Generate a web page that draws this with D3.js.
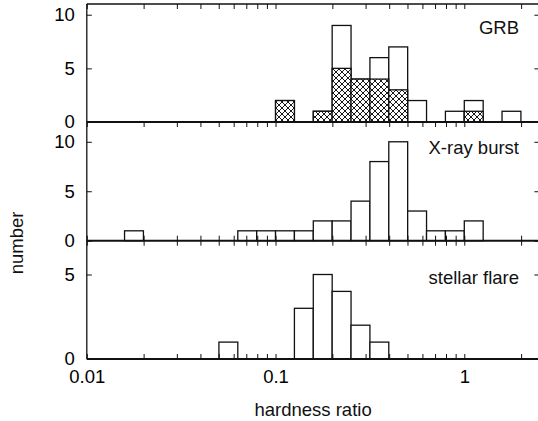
<!DOCTYPE html>
<html>
<head>
<meta charset="utf-8">
<script src="https://cdn.jsdelivr.net/npm/d3@7"></script>
<style>
html,body{margin:0;padding:0;background:#fff;}
svg{display:block;font-family:"Liberation Sans",Arial,Helvetica,sans-serif;}
</style>
</head>
<body>
<svg id="chart" width="538" height="421"></svg>
<script>
// ---- data ----
// lower edges of the histogram bins, in log10(hardness ratio); each bin is 0.1 dex wide
const binLog = [-1.8,-1.7,-1.6,-1.5,-1.4,-1.3,-1.2,-1.1,-1.0,-0.9,-0.8,-0.7,-0.6,-0.5,-0.4,-0.3,-0.2,-0.1,0.0,0.1,0.2];
const grbTotal   = [0,0,0,0,0,0,0,0,2,0,1,9,4,6,7,2,0,1,2,0,1];
const grbHatched = [0,0,0,0,0,0,0,0,2,0,1,5,4,4,3,0,0,0,1,0,0];
const xrayBurst  = [1,0,0,0,0,0,1,1,1,1,2,2,4,8,10,3,1,1,2,0,0];
const stellarFlare = [0,0,0,0,0,1,0,0,0,3,5,4,2,1,0,0,0,0,0,0,0];
const panelNames = ["GRB","X-ray burst","stellar flare"];
const yMax = [11,12,7];
const yTicks = [[0,5,10],[0,5,10],[0,5]];
const xLabelTicks = [0.01,0.1,1];
const binWidth = 0.1;

// ---- layout ----
const svg = d3.select("#chart");
const left = 86.8, right = 539.4;
const panelTop = [4,122,240.7], panelBottom = [122,240.7,359];
const x = d3.scaleLog().domain([0.01,2.5]).range([left,right]);
const lineCol = "#111";
const fs = 18.5;

// hatch pattern
const defs = svg.append("defs");
const pat = defs.append("pattern").attr("id","xhatch").attr("patternUnits","userSpaceOnUse")
  .attr("width",6).attr("height",6);
pat.append("rect").attr("width",6).attr("height",6).attr("fill","#fff");
pat.append("path").attr("d","M-1,-1L7,7M7,-1L-1,7").attr("stroke","#000").attr("stroke-width",0.9).attr("fill","none");

const series = [[{v:grbTotal,fill:"#fff"},{v:grbHatched,fill:"url(#xhatch)"}],
                [{v:xrayBurst,fill:"#fff"}],
                [{v:stellarFlare,fill:"#fff"}]];

for(let p=0;p<3;p++){
  const y = d3.scaleLinear().domain([0,yMax[p]]).range([panelBottom[p],panelTop[p]]);
  const g = svg.append("g");
  series[p].forEach(s=>{
    const d = binLog.map((b,i)=>({b,v:s.v[i]})).filter(e=>e.v>0);
    g.selectAll(null).data(d).enter().append("rect")
      .attr("x",e=>x(Math.pow(10,e.b)))
      .attr("width",e=>x(Math.pow(10,e.b+binWidth))-x(Math.pow(10,e.b)))
      .attr("y",e=>y(e.v))
      .attr("height",e=>y(0)-y(e.v))
      .attr("fill",s.fill).attr("stroke",lineCol).attr("stroke-width",1.3);
  });
  const axT = g.append("g").attr("transform",`translate(0,${panelTop[p]})`)
    .call(d3.axisTop(x).tickSize(-5).tickFormat(""));
  axT.select(".domain").remove();
  if(p>0){
    const axB = g.append("g").attr("transform",`translate(0,${panelBottom[p]})`)
      .call(d3.axisBottom(x).tickSize(-5).tickFormat(""));
    axB.select(".domain").remove();
  }
  const ayL = g.append("g").attr("transform",`translate(${left},0)`)
    .call(d3.axisLeft(y).tickValues(yTicks[p]).tickSize(-5).tickPadding(12).tickFormat(d3.format("d")));
  ayL.select(".domain").remove();
  ayL.selectAll("text").attr("font-size",fs).attr("fill","#000").attr("font-family","Liberation Sans, Arial, sans-serif");
  const ayR = g.append("g").attr("transform",`translate(${right},0)`)
    .call(d3.axisRight(y).tickValues(yTicks[p]).tickSize(-5).tickFormat(""));
  ayR.select(".domain").remove();
  g.selectAll(".tick line").attr("stroke",lineCol).attr("stroke-width",1);
  g.append("line").attr("x1",left).attr("x2",right).attr("y1",panelBottom[p]).attr("y2",panelBottom[p])
    .attr("stroke",lineCol).attr("stroke-width",2);
  g.append("text").attr("x",519).attr("y",[34,153.5,284][p]).attr("text-anchor","end")
    .attr("font-size",fs).attr("fill","#111").text(panelNames[p]);
}
// frame
svg.append("line").attr("x1",left).attr("x2",right).attr("y1",panelTop[0]).attr("y2",panelTop[0]).attr("stroke",lineCol).attr("stroke-width",1.3);
svg.append("line").attr("x1",left).attr("x2",left).attr("y1",panelTop[0]).attr("y2",panelBottom[2]).attr("stroke",lineCol).attr("stroke-width",1.3);
svg.append("line").attr("x1",right).attr("x2",right).attr("y1",panelTop[0]).attr("y2",panelBottom[2]).attr("stroke",lineCol).attr("stroke-width",1.3);

// x tick labels
const axL = svg.append("g").attr("transform",`translate(0,${panelBottom[2]})`)
  .call(d3.axisBottom(x).tickValues(xLabelTicks).tickSize(0).tickPadding(11).tickFormat(d=>String(d)));
axL.select(".domain").remove();
axL.selectAll("text").attr("font-size",fs).attr("fill","#000").attr("font-family","Liberation Sans, Arial, sans-serif");

svg.append("text").attr("x",(left+right)/2).attr("y",416).attr("text-anchor","middle")
  .attr("font-size",fs).attr("fill","#111").text("hardness ratio");
svg.append("text").attr("transform","translate(22.7,243) rotate(-90)").attr("text-anchor","middle")
  .attr("font-size",fs).attr("fill","#111").text("number");
</script>
</body>
</html>
